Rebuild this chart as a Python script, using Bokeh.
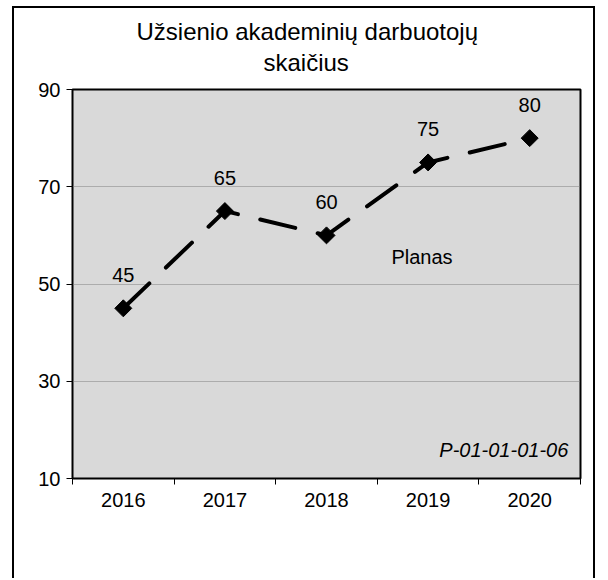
import numpy as np
from bokeh.plotting import figure
from bokeh.models import FixedTicker, Title, Label, ColumnDataSource, Range1d
from bokeh.embed import file_html
from bokeh.resources import INLINE
from bokeh.core.properties import value

# ---- data ----
years = ["2016", "2017", "2018", "2019", "2020"]
plan_values = [45, 65, 60, 75, 80]
y_ticks = [10, 30, 50, 70, 90]
title_line1 = "Užsienio akademinių darbuotojų"
title_line2 = "skaičius"
series_name = "Planas"
code_note = "P-01-01-01-06"

FONT = "Liberation Sans"

xs = [i + 0.5 for i in range(len(years))]
src = ColumnDataSource(dict(x=xs, y=plan_values, lbl=[str(v) for v in plan_values]))

p = figure(width=583, height=572,
           x_range=Range1d(0, len(years)), y_range=Range1d(y_ticks[0], y_ticks[-1]),
           output_backend="svg", toolbar_location=None, title=None,
           min_border_left=58, min_border_right=17, min_border_top=81, min_border_bottom=102)

p.styles = {"border-top": "2px solid black", "border-left": "2px solid black",
            "border-right": "2px solid black", "margin-left": "12px", "margin-top": "6px"}

p.background_fill_color = "#d9d9d9"
p.border_fill_color = "white"
p.outline_line_color = "black"
p.outline_line_width = 2

# titles stack outward from the plot: spacer, second line, first line
# (left-aligned with offsets so they sit centred on the whole chart, not the plot area)
p.add_layout(Title(text=" ", align="center", text_font=FONT, text_font_size="11px",
                   text_line_height=1.0, standoff=0), "above")
p.add_layout(Title(text=title_line2, align="left", offset=191, text_font=FONT,
                   text_font_size="24px", text_font_style="normal", text_color="black",
                   standoff=0, text_line_height=1.0), "above")
p.add_layout(Title(text=title_line1, align="left", offset=64, text_font=FONT,
                   text_font_size="24px", text_font_style="normal", text_color="black",
                   standoff=4, text_line_height=1.0), "above")

# x axis: labels centered, ticks at category boundaries
p.xaxis.ticker = FixedTicker(ticks=xs, minor_ticks=list(range(len(years) + 1)))
p.xaxis.major_label_overrides = {x: y for x, y in zip(xs, years)}
p.xaxis.major_tick_in = 0
p.xaxis.major_tick_out = 0
p.xaxis.minor_tick_in = 0
p.xaxis.minor_tick_out = 6
p.xaxis.minor_tick_line_color = "black"
p.xaxis.axis_line_color = "black"
p.xaxis.major_label_text_font = FONT
p.xaxis.major_label_text_font_size = "20px"
p.xaxis.major_label_text_color = "black"
p.xaxis.major_label_standoff = 8

p.yaxis.ticker = FixedTicker(ticks=y_ticks)
p.yaxis.major_tick_in = 0
p.yaxis.major_tick_out = 6
p.yaxis.major_tick_line_color = "black"
p.yaxis.minor_tick_line_color = None
p.yaxis.axis_line_color = "black"
p.yaxis.major_label_text_font = FONT
p.yaxis.major_label_text_font_size = "20px"
p.yaxis.major_label_text_color = "black"
p.yaxis.major_label_standoff = 6

p.xgrid.visible = False
p.ygrid.ticker = FixedTicker(ticks=y_ticks)
p.ygrid.grid_line_color = "#7f7f7f"
p.ygrid.grid_line_width = 1
p.ygrid.grid_line_dash = "1 1"

p.line("x", "y", source=src, line_color="black", line_width=4,
       line_dash="36 23", line_cap="round")
p.scatter("x", "y", source=src, marker="square", size=12, angle=np.pi / 4,
          fill_color="black", line_color="black")
p.text("x", "y", text="lbl", source=src, text_align="center", text_baseline="middle",
       y_offset=-33, text_font=value(FONT), text_font_size="20px", text_color="black")

p.add_layout(Label(x=3.44, y=55.6, text=series_name, text_align="center",
                   text_baseline="middle", text_font=FONT, text_font_size="20px",
                   text_color="black"))
p.add_layout(Label(x=4.88, y=15.8, text=code_note, text_align="right",
                   text_baseline="middle", text_font=FONT, text_font_size="20px",
                   text_font_style="italic", text_color="black"))

open("out.html", "w").write(file_html(p, INLINE))
